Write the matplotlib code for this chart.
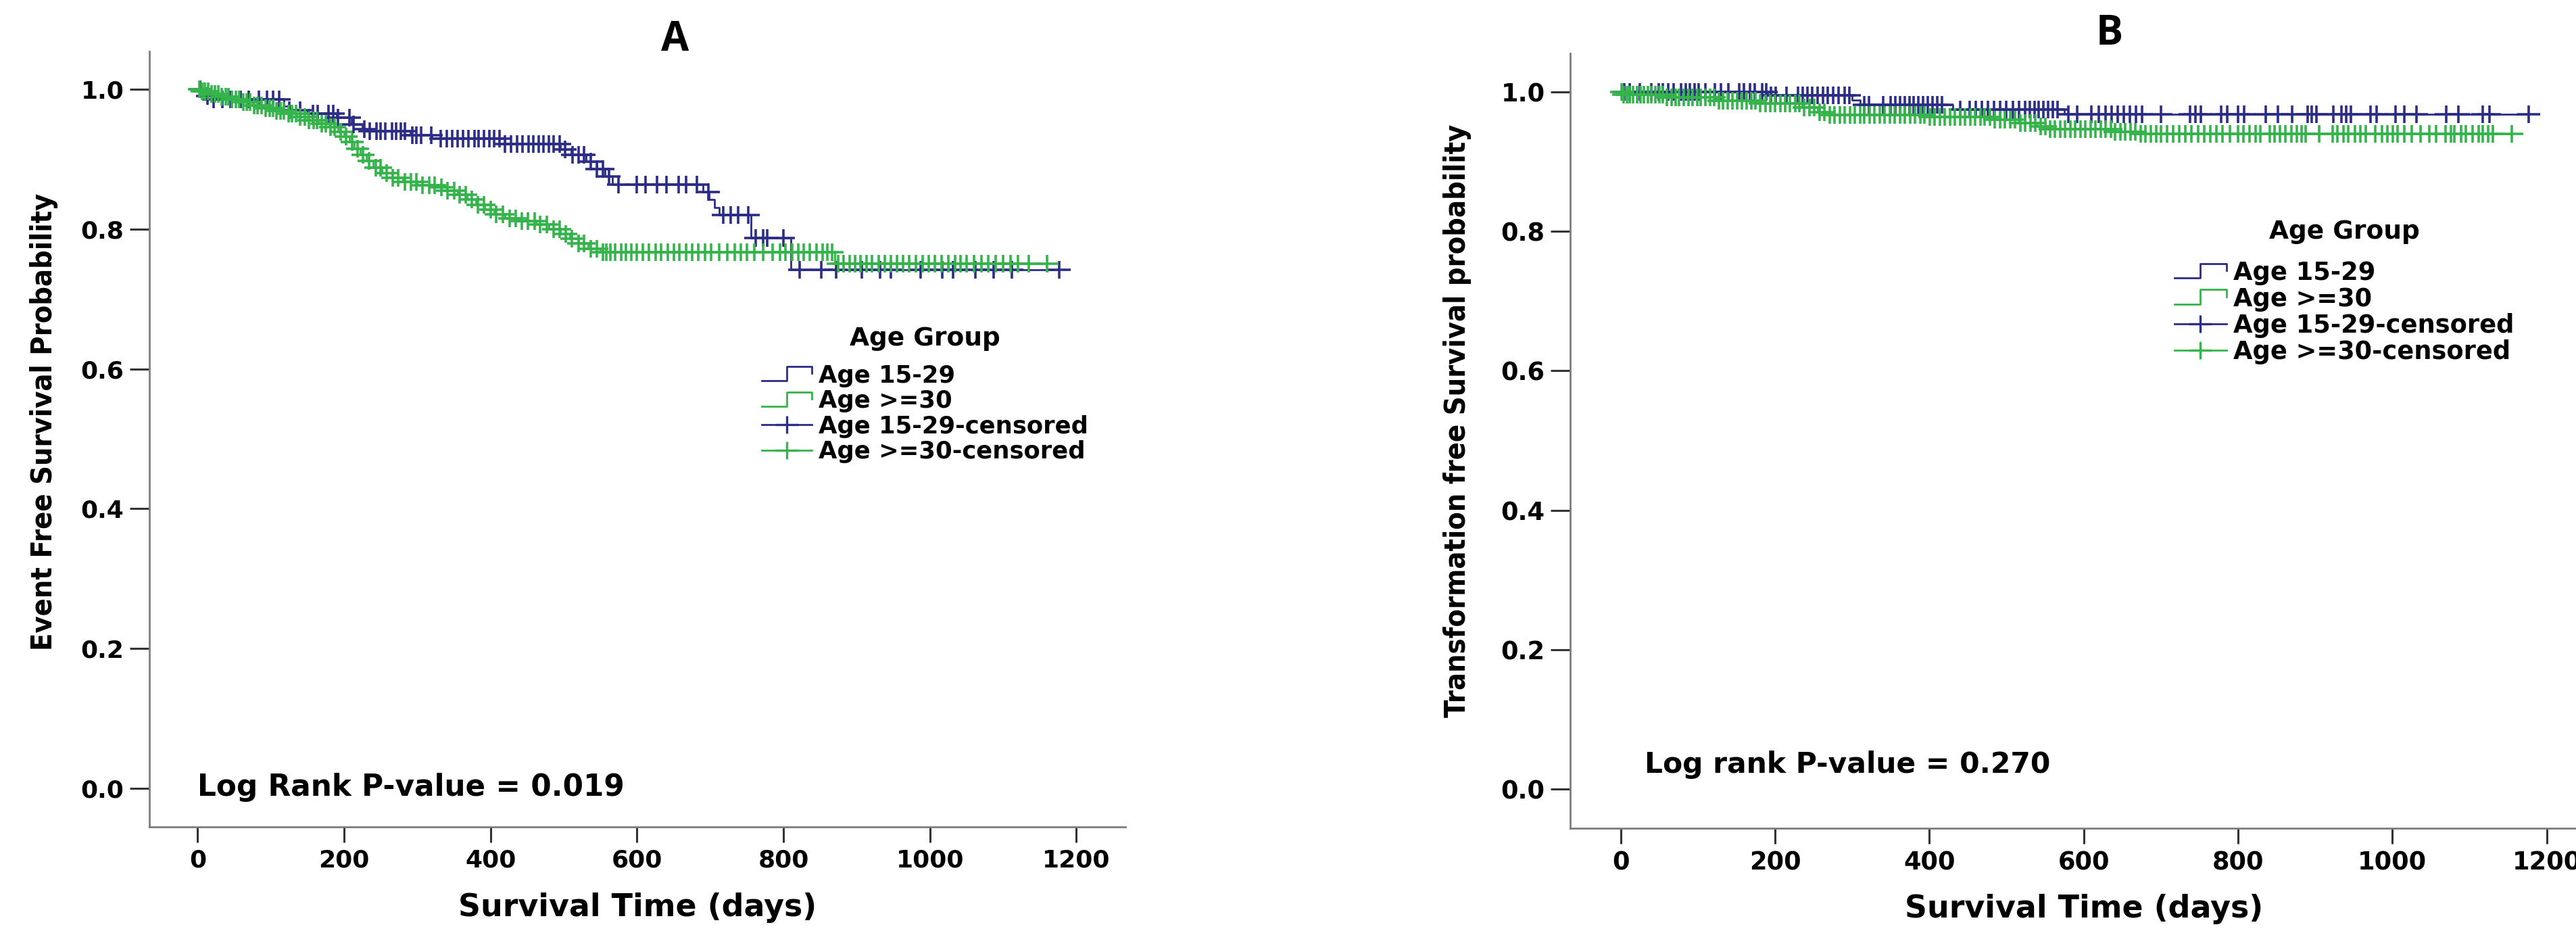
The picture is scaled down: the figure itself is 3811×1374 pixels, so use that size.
import numpy as np
import matplotlib
matplotlib.use("Agg")
import matplotlib.pyplot as plt
from matplotlib.lines import Line2D
from matplotlib.path import Path
from matplotlib.markers import MarkerStyle
from matplotlib.legend_handler import HandlerBase

plt.rcParams['font.family'] = ['DejaVu Sans']

# ---------------- data ----------------
group_labels = ["Age 15-29", "Age >=30", "Age 15-29-censored", "Age >=30-censored"]
legend_title = "Age Group"
x_ticks = [0, 200, 400, 600, 800, 1000, 1200]
y_ticks = [0.0, 0.2, 0.4, 0.6, 0.8, 1.0]

# Panel A: event-free survival
a_young_event_t = [8, 20, 118, 125, 150, 190, 210, 225, 232, 290, 320, 420, 495, 510, 530,
                   545, 556, 566, 690, 698, 706, 712, 756, 810]
a_young_event_s = [0.990, 0.985, 0.976, 0.970, 0.965, 0.959, 0.950, 0.943, 0.940, 0.934, 0.929,
                   0.922, 0.914, 0.906, 0.896, 0.886, 0.875, 0.864, 0.853, 0.842, 0.831, 0.820,
                   0.787, 0.742]
a_young_cens_t = [3, 13, 22, 34, 45, 59, 70, 84, 95, 103, 111, 125, 140, 157, 164, 179, 185, 192,
                  207, 213, 228, 235, 244, 250, 256, 265, 271, 277, 283, 293, 299, 305, 319, 332,
                  340, 348, 355, 362, 370, 378, 384, 391, 398, 405, 412, 420, 428, 436, 444, 452,
                  458, 466, 472, 480, 486, 494, 502, 512, 520, 528, 537, 545, 553, 562, 575, 600,
                  612, 627, 640, 657, 667, 682, 697, 718, 728, 738, 752, 762, 772, 778, 800, 822,
                  852, 872, 907, 932, 947, 987, 1017, 1032, 1062, 1087, 1112, 1177]

a_old_event_t = [5, 15, 30, 45, 60, 75, 90, 105, 120, 135, 150, 165, 180, 192, 200, 207, 214, 222,
                 230, 240, 252, 265, 280, 300, 325, 340, 355, 368, 380, 392, 405, 420, 440, 462,
                 480, 495, 508, 520, 533, 550, 870]
a_old_event_s = [0.997, 0.993, 0.989, 0.985, 0.981, 0.977, 0.973, 0.969, 0.965, 0.960, 0.955,
                 0.951, 0.946, 0.939, 0.932, 0.924, 0.915, 0.906, 0.897, 0.888, 0.880, 0.873,
                 0.867, 0.863, 0.860, 0.855, 0.849, 0.842, 0.835, 0.828, 0.821, 0.815, 0.811,
                 0.806, 0.800, 0.793, 0.786, 0.779, 0.772, 0.767, 0.750]
a_old_cens_t = [2, 6, 10, 14, 19, 24, 28, 33, 38, 42, 47, 52, 57, 62, 67, 72, 77, 82, 87, 93, 98,
                103, 108, 113, 118, 124, 129, 134, 140, 146, 152, 158, 163, 169, 175, 181, 187,
                195, 203, 211, 218, 226, 234, 243, 250, 258, 266, 274, 283, 291, 299, 307, 316,
                324, 333, 341, 350, 358, 366, 374, 383, 391, 400, 408, 417, 426, 434, 443, 451,
                460, 468, 477, 486, 494, 503, 511, 520, 528, 537, 545, 553, 558, 564, 570, 578,
                585, 592, 600, 608, 616, 625, 633, 642, 650, 658, 667, 675, 684, 693, 701, 712,
                723, 733, 742, 750, 760, 772, 785, 795, 803, 812, 820, 828, 836, 845, 853, 860,
                866, 875, 882, 890, 898, 905, 913, 921, 930, 938, 947, 955, 963, 972, 981, 990,
                998, 1007, 1016, 1025, 1034, 1042, 1050, 1060, 1070, 1080, 1090, 1100, 1110,
                1120, 1135, 1160]

# Panel B: transformation-free survival
b_young_event_t = [190, 300, 310, 430, 575]
b_young_event_s = [0.995, 0.988, 0.981, 0.975, 0.968]
b_young_cens_t = [5, 12, 25, 40, 49, 55, 62, 69, 78, 84, 90, 96, 101, 110, 122, 130, 140, 154, 160,
                  168, 174, 183, 189, 195, 201, 215, 230, 236, 242, 248, 255, 262, 268, 275, 282,
                  290, 296, 316, 322, 340, 350, 356, 362, 368, 374, 380, 386, 392, 398, 404, 410,
                  416, 440, 452, 460, 468, 476, 484, 492, 500, 508, 516, 524, 530, 536, 542, 548,
                  554, 560, 566, 580, 592, 610, 620, 628, 636, 644, 652, 660, 668, 676, 700, 738,
                  745, 752, 778, 786, 800, 808, 836, 852, 870, 890, 896, 902, 924, 934, 940, 946,
                  972, 980, 1004, 1016, 1031, 1070, 1086, 1117, 1126, 1177]

b_old_event_t = [3, 60, 125, 180, 235, 255, 270, 400, 480, 515, 540, 555, 640, 670]
b_old_event_s = [0.996, 0.992, 0.987, 0.983, 0.977, 0.971, 0.967, 0.964, 0.960, 0.955, 0.950,
                 0.946, 0.943, 0.940]
b_old_cens_t = [1, 4, 8, 12, 16, 21, 26, 30, 35, 40, 45, 50, 55, 60, 66, 71, 76, 82, 88, 93, 99,
                104, 110, 116, 121, 127, 133, 139, 145, 151, 157, 163, 169, 175, 181, 188, 194,
                200, 207, 213, 219, 226, 232, 238, 245, 251, 258, 264, 271, 277, 284, 290, 297,
                303, 310, 316, 323, 329, 336, 342, 349, 355, 362, 368, 375, 381, 388, 394, 401,
                407, 414, 420, 427, 433, 440, 446, 453, 459, 466, 472, 479, 485, 492, 498, 505,
                511, 518, 524, 531, 537, 544, 550, 557, 563, 570, 576, 583, 589, 596, 602, 609,
                615, 622, 628, 635, 641, 648, 654, 661, 667, 674, 680, 687, 694, 700, 708, 716,
                724, 732, 740, 748, 756, 764, 772, 780, 790, 800, 807, 815, 823, 829, 841, 847,
                854, 861, 869, 876, 882, 888, 905, 923, 929, 937, 943, 952, 959, 966, 978, 987,
                994, 1001, 1007, 1016, 1025, 1037, 1048, 1057, 1069, 1076, 1080, 1089, 1095,
                1104, 1112, 1117, 1124, 1130, 1155]

# ---------------- style ----------------
BLUE = '#2B2D86'
GREEN = '#34B44A'
SPINE = '#7d7d7d'
TICKC = '#333333'

plus_path = Path([(-1.3, 0), (1.3, 0), (0, -1), (0, 1)],
                 [Path.MOVETO, Path.LINETO, Path.MOVETO, Path.LINETO])
CENS = MarkerStyle(plus_path)


class HandlerStep(HandlerBase):
    def create_artists(self, legend, orig_handle, xdescent, ydescent, width, height,
                       fontsize, trans):
        xs = np.array([0, 0.5, 0.5, 1.0, 1.0]) * width - xdescent
        ys = np.array([0.1, 0.1, 0.95, 0.95, 0.55]) * height - ydescent
        ln = Line2D(xs, ys, color=orig_handle.get_color(),
                    lw=orig_handle.get_linewidth(), transform=trans)
        return [ln]


def km(event_t, event_s, cens_t):
    et = np.asarray(event_t, float)
    es = np.asarray(event_s, float)
    ct = np.asarray(cens_t, float)
    t = np.r_[0.0, et, ct.max()]
    s = np.r_[1.0, es, es[-1]]
    cs = np.r_[1.0, es][np.searchsorted(et, ct, side='right')]
    return t, s, ct, cs


def panel(ax, series, xlim, ylim, ylabel, ylab_xy, title, title_xy, ptxt, pt_xy, pt_size,
          leg_xy, leg_size, leg_space, leg_sep, tick_size, handlelen):
    step_handles, cens_handles = [], []
    for (et, es, ct), col in zip(series, [BLUE, GREEN]):
        t, s, cx, cy = km(et, es, ct)
        h, = ax.step(t, s, where='post', color=col, lw=2.0)
        ax.plot(cx, cy, ls='none', marker=CENS, ms=25, mew=2.6, color=col, mfc='none')
        step_handles.append(h)
        cens_handles.append(Line2D([], [], color=col, lw=2.0, marker=CENS, ms=25, mew=2.4,
                                   mfc='none'))
    ax.set_xlim(*xlim)
    ax.set_ylim(*ylim)
    for sp in ['top', 'right']:
        ax.spines[sp].set_visible(False)
    for sp in ['left', 'bottom']:
        ax.spines[sp].set_color(SPINE)
        ax.spines[sp].set_linewidth(2.0)
    ax.set_xticks(x_ticks)
    ax.set_xticklabels([str(v) for v in x_ticks], fontweight='bold', fontsize=tick_size)
    ax.set_yticks(y_ticks)
    ax.set_yticklabels([f'{v:.1f}' for v in y_ticks], fontweight='bold', fontsize=tick_size)
    ax.tick_params(axis='x', length=16.5, width=2.2, color=TICKC, pad=7)
    ax.tick_params(axis='y', length=21, width=2.2, color=TICKC, pad=6)

    ax.set_xlabel('Survival Time (days)', fontsize=33, fontweight='bold', va='center')
    ax.xaxis.set_label_coords(0.5, -0.104)
    ax.set_ylabel(ylabel, family=['DejaVu Sans Condensed', 'DejaVu Sans'],
                  fontstretch='condensed', fontweight='bold', fontsize=31, va='center')
    ax.yaxis.set_label_coords(*ylab_xy)
    ax.set_title(title, family=['Open Sans', 'DejaVu Sans'], fontweight='bold',
                 fontsize=43, x=title_xy[0], y=title_xy[1], va='center', pad=0)
    ax.text(pt_xy[0], pt_xy[1], ptxt, fontsize=pt_size, fontweight='bold', ha='left',
            va='baseline')

    leg = ax.legend(handles=step_handles + cens_handles, labels=group_labels,
                    handler_map={step_handles[0]: HandlerStep(), step_handles[1]: HandlerStep()},
                    title=legend_title, loc='upper left', bbox_to_anchor=leg_xy,
                    frameon=False, borderpad=0, borderaxespad=0, labelspacing=leg_space,
                    handlelength=handlelen, handletextpad=0.27,
                    prop={'weight': 'bold', 'size': leg_size},
                    title_fontproperties={'weight': 'bold', 'size': 27})
    leg._legend_box.sep = leg_sep
    return leg


fig = plt.figure(figsize=(38.11, 13.74), dpi=100)
axA = fig.add_axes([0.05799, 0.1099, 0.37890, 0.83479])
axB = fig.add_axes([0.60955, 0.10844, 0.39911, 0.83406])

panel(axA,
      [(a_young_event_t, a_young_event_s, a_young_cens_t),
       (a_old_event_t, a_old_event_s, a_old_cens_t)],
      (-66, 1267), (-0.055, 1.054), 'Event Free Survival Probability', (-0.108, 0.522),
      'A', (0.5388, 1.0148), 'Log Rank P-value = 0.019', (0, -0.0106), 31.5,
      (0.6274, 0.645), 25.5, 0.1, 14, 26, 2.1)

panel(axB,
      [(b_young_event_t, b_young_event_s, b_young_cens_t),
       (b_old_event_t, b_old_event_s, b_old_cens_t)],
      (-65.4, 1267), (-0.056, 1.055), 'Transformation free Survival probability',
      (-0.1098, 0.526),
      'B', (0.5247, 1.0253), 'Log rank P-value = 0.270', (31, 0.0236), 30.5,
      (0.5875, 0.785), 26.5, 0.05, 17, 26.5, 2.1)

fig.savefig('out.png', dpi=100)
